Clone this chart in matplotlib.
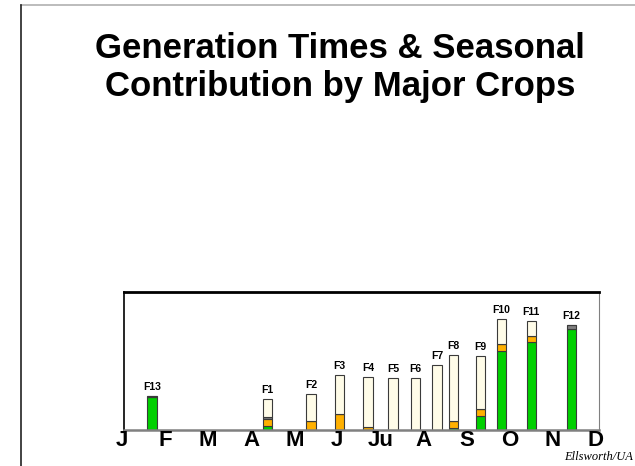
import matplotlib
matplotlib.use("Agg")
import matplotlib.pyplot as plt
from matplotlib.lines import Line2D
import numpy as np

# --- data ---
months = ["J", "F", "M", "A", "M", "J", "Ju", "A", "S", "O", "N", "D"]
gen_labels = ["F13", "F1", "F2", "F3", "F4", "F5", "F6", "F7", "F8", "F9", "F10", "F11", "F12"]
gen_pos = [0.70, 3.38, 4.39, 5.05, 5.71, 6.29, 6.81, 7.31, 7.70, 8.32, 8.81, 9.50, 10.43]
total = [24.4, 22.2, 25.6, 39.6, 38.4, 37.2, 37.2, 46.7, 54.0, 53.2, 80.1, 79.1, 75.8]
green = [23.6, 2.5, 0, 0, 0, 0, 0, 0, 1.3, 10.0, 57.1, 63.9, 73.3]
orange = [0, 4.9, 6.4, 11.3, 2.0, 0, 0, 0, 4.9, 4.9, 5.1, 3.9, 0]
gray = [0.8, 1.5, 0, 0, 0, 0, 0, 0, 0, 0, 0, 0, 2.5]

C_GREEN = "#00D000"
C_ORANGE = "#FFB000"
C_GRAY = "#7F7F7F"
C_CREAM = "#FFFCE8"

plt.rcParams["font.family"] = ["Liberation Sans", "DejaVu Sans"]

fig = plt.figure(figsize=(6.35, 4.66), dpi=100)
W, H = 635, 466

# slide frame
fig.add_artist(Line2D([21 / W, 1], [1 - 5 / H, 1 - 5 / H], color="#b0b0b0", lw=1.2))
fig.add_artist(Line2D([21 / W, 21 / W], [0, 1 - 5 / H], color="#222222", lw=1.2))

fig.text(0.535, 0.855, "Generation Times & Seasonal\nContribution by Major Crops",
         ha="center", va="center", fontsize=25, fontweight="bold", linespacing=1.22)

ax = fig.add_axes([124 / W, (H - 429.5) / H, (599 - 124) / W, (429.5 - 292) / H])
ax.set_xlim(0.05, 11.07)
ax.set_ylim(0, 100)
ax.set_xticks([])
ax.set_yticks([])
ax.spines["top"].set_linewidth(2)
ax.spines["left"].set_linewidth(1.2)
ax.spines["right"].set_color("#808080")
ax.spines["bottom"].set_color("#808080")
ax.spines["bottom"].set_linewidth(1.8)

green = np.array(green)
orange = np.array(orange)
gray = np.array(gray)
total = np.array(total)
cream = total - green - orange - gray

width = 0.22
kw = dict(width=width, edgecolor="#3a3a3a", linewidth=0.8)
ax.bar(gen_pos, green, color=C_GREEN, **kw)
ax.bar(gen_pos, orange, bottom=green, color=C_ORANGE, **kw)
ax.bar(gen_pos, gray, bottom=green + orange, color=C_GRAY, **kw)
ax.bar(gen_pos, cream, bottom=green + orange + gray, color=C_CREAM, **kw)

for x, t, lab in zip(gen_pos, total, gen_labels):
    ax.annotate(lab, (x, t), xytext=(0, 3), textcoords="offset points",
                ha="center", va="bottom", fontsize=7.5, fontweight="bold")

tr = ax.get_xaxis_transform()
for i, m in enumerate(months):
    ax.text(i, 0.0, m, transform=tr, ha="center", va="top", fontsize=16,
            fontweight="bold", clip_on=False)

fig.text(0.997, 0.02, "Ellsworth/UA", ha="right", va="center", fontsize=9,
         style="italic", family=["Liberation Serif", "DejaVu Serif"])

fig.savefig("out.png", dpi=100)
